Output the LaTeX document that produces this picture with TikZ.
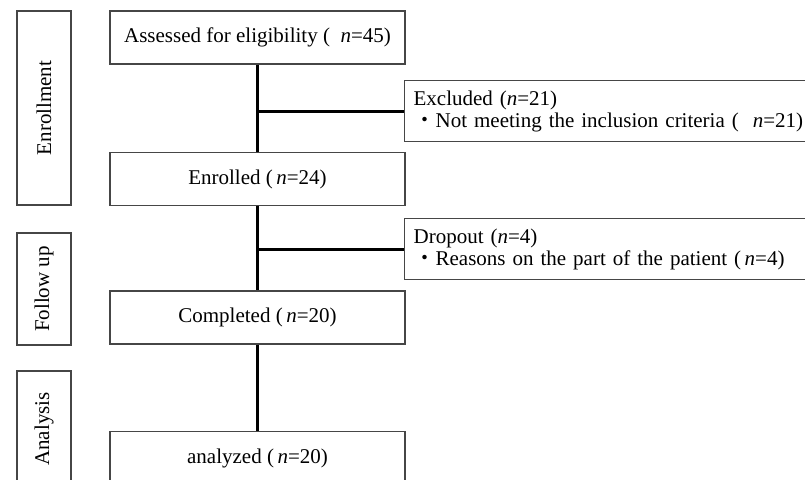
\documentclass[tikz,border=0pt]{standalone}
\usepackage{fontspec}
\setmainfont{Liberation Serif}
\newfontfamily\cjk{Noto Sans CJK JP}
\usepackage{tikz}
\usetikzlibrary{positioning, calc}
\definecolor{boxgray}{RGB}{70, 70, 70}

\begin{document}
\begin{tikzpicture}[x=1pt, y=-1pt,
  stagebox/.style={draw=boxgray, line width=1.2pt, rotate=90, minimum height=54pt, inner sep=0pt, font=\fontsize{21}{23}\selectfont},
  flowbox/.style={draw=boxgray, line width=1.2pt, minimum width=295pt, minimum height=53pt, inner sep=0pt, font=\fontsize{21}{23}\selectfont},
  sidebox/.style={draw=boxgray, line width=1.2pt, text width=394pt, inner xsep=9pt, minimum height=61pt, align=left, font=\fontsize{21}{22}\selectfont},
  link/.style={line width=3pt, black}
]
  \useasboundingbox (0,0) rectangle (805,479);
  \clip (0,0) rectangle (805,479);

  % Stage labels
  \node[stagebox, minimum width=194pt] (enrolment) at (44, 108) {Enrollment};
  \node[stagebox, minimum width=112pt] (followup) at (44, 289) {Follow up};
  \node[stagebox, minimum width=116pt] (analysis) at (44, 429) {Analysis};

  % Main flow
  \node[flowbox] (assess) at (257.5, 37.5) {Assessed for eligibility (\ \ \textit{n}=45)};
  \node[flowbox] (enrol) at (257.5, 179) {Enrolled (\,\textit{n}=24)};
  \node[flowbox] (compl) at (257.5, 317.5) {Completed (\,\textit{n}=20)};
  \node[flowbox] (analyzed) at (257.5, 458) {analyzed (\,\textit{n}=20)};

  % Side boxes
  \node[sidebox, anchor=west] (excluded) at (404, 111) {Excluded (\textit{n}=21)\\
    \hspace*{1pt}{\cjk ・}Not meeting the inclusion criteria (\ \ \textit{n}=21)};
  \node[sidebox, anchor=west] (dropout) at (404, 249) {Dropout (\textit{n}=4)\\
    \hspace*{1pt}{\cjk ・}Reasons on the part of the patient (\,\textit{n}=4)};

  % Connectors
  \draw[link] (assess) -- (enrol);
  \draw[link] (enrol) -- (compl);
  \draw[link] (compl) -- (analyzed);
  \draw[link] (assess.south |- excluded.west) -- (excluded.west);
  \draw[link] (enrol.south |- dropout.west) -- (dropout.west);
\end{tikzpicture}
\end{document}
